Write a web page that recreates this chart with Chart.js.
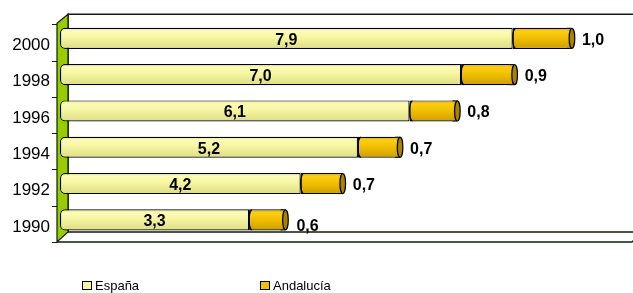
<!DOCTYPE html>
<html>
<head>
<meta charset="utf-8">
<script src="https://cdn.jsdelivr.net/npm/chart.js@4/dist/chart.umd.min.js"></script>
<style>
    html, body { margin: 0; padding: 0; background: #fff; }
    #wrap { position: relative; width: 633px; height: 293px; font-family: 'Liberation Sans', Arial, sans-serif; }
    #chart { position: absolute; left: 0; top: 0; }
    .legend-item { position: absolute; top: 278px; display: flex; align-items: center; font-size: 13px; color: #000; }
    .legend-item .box { width: 8px; height: 7px; border: 1.5px solid #000; margin-right: 3px; }
</style>
</head>
<body>
<div id="wrap">
    <canvas id="chart" width="633" height="293"></canvas>
    <div id="legend"></div>
</div>
<script>
// ===== Data =====
const years = ['2000', '1998', '1996', '1994', '1992', '1990'];
const espana = [7.9, 7.0, 6.1, 5.2, 4.2, 3.3];
const andalucia = [1.0, 0.9, 0.8, 0.7, 0.7, 0.6];
const seriesNames = ['España', 'Andalucía'];

const FONT = "'Liberation Sans', Arial, sans-serif";
const fmt = v => v.toFixed(1).replace('.', ',');

// vertical gradient for each bar, so it looks like a cylinder
function cylinder(stops, flat) {
    return ctx => {
        const chart = ctx.chart;
        const y = chart.scales && chart.scales.y;
        if (!y || ctx.dataIndex === undefined) return flat;
        const c = y.getPixelForValue(ctx.dataIndex);
        if (!isFinite(c)) return flat;
        const h = 11;
        const g = chart.ctx.createLinearGradient(0, c - h, 0, c + h);
        stops.forEach(s => g.addColorStop(s[0], s[1]));
        return g;
    };
}

// 3D frame: back wall, green side wall, floor, tick marks
const framePlugin = {
    id: 'frame',
    beforeDatasetsDraw(chart) {
        const { ctx, chartArea: a } = chart;
        const fx = a.left - 3, bx = a.left + 8;
        const backTop = a.top - 6, backBot = a.bottom - 6;
        const frontTop = a.top + 3, frontBot = a.bottom + 4;
        const right = chart.width;
        ctx.save();
        ctx.strokeStyle = '#0d1f0d';
        ctx.lineWidth = 1.5;

        // back wall outline
        ctx.beginPath();
        ctx.moveTo(right, backTop);
        ctx.lineTo(bx, backTop);
        ctx.lineTo(bx, backBot);
        ctx.lineTo(right, backBot);
        ctx.stroke();

        // floor front edge
        ctx.beginPath();
        ctx.moveTo(fx, frontBot);
        ctx.lineTo(right - 1, frontBot);
        ctx.lineTo(right + 2, frontBot - 3);
        ctx.stroke();

        // green side wall
        ctx.beginPath();
        ctx.moveTo(fx, frontTop);
        ctx.lineTo(bx, backTop);
        ctx.lineTo(bx, backBot);
        ctx.lineTo(fx, frontBot);
        ctx.closePath();
        ctx.fillStyle = '#99cc00';
        ctx.fill();
        ctx.lineWidth = 1.2;
        ctx.stroke();

        // tick marks on the front edge
        const band = (a.bottom - a.top) / years.length;
        ctx.lineWidth = 1;
        ctx.beginPath();
        for (let i = 0; i <= years.length; i++) {
            const ty = Math.round(a.top + 4 + i * band) + 0.5;
            ctx.moveTo(fx - 5, ty);
            ctx.lineTo(fx, ty);
        }
        ctx.stroke();
        ctx.restore();
    }
};

// end caps and value labels
const labelPlugin = {
    id: 'labels',
    afterDatasetsDraw(chart) {
        const { ctx } = chart;
        const esp = chart.getDatasetMeta(0).data;
        const and = chart.getDatasetMeta(1).data;
        ctx.save();

        // cylinder end: a short piece sticking out plus a dark cap
        and.forEach(el => {
            const ry = el.height / 2 - 0.5;
            const top = el.y - el.height / 2, h = el.height;
            const g = ctx.createLinearGradient(0, top, 0, top + h);
            g.addColorStop(0, '#dcac00');
            g.addColorStop(0.2, '#fcce14');
            g.addColorStop(1, '#cc9c00');
            ctx.fillStyle = g;
            ctx.fillRect(el.x - 3, top + 0.5, 5, h - 1);
            ctx.strokeStyle = '#000';
            ctx.lineWidth = 1;
            ctx.beginPath();
            ctx.moveTo(el.x - 3, top + 0.5);
            ctx.lineTo(el.x + 2, top + 0.5);
            ctx.moveTo(el.x - 3, top + h - 0.5);
            ctx.lineTo(el.x + 2, top + h - 0.5);
            ctx.stroke();
            ctx.beginPath();
            ctx.ellipse(el.x + 2, el.y, 2.8, ry, 0, 0, Math.PI * 2);
            ctx.fillStyle = '#a88300';
            ctx.fill();
            ctx.lineWidth = 1.2;
            ctx.stroke();
        });

        // curved joint between the two segments
        and.forEach(el => {
            const ry = el.height / 2 - 0.5;
            ctx.beginPath();
            ctx.ellipse(el.base + 3, el.y, 3, ry, 0, Math.PI / 2, Math.PI * 1.5);
            ctx.lineWidth = 1.2;
            ctx.strokeStyle = '#000';
            ctx.stroke();
        });

        ctx.fillStyle = '#000';
        ctx.font = 'bold 16px ' + FONT;
        ctx.textBaseline = 'middle';
        ctx.textAlign = 'center';
        esp.forEach((el, i) => {
            ctx.fillText(fmt(espana[i]), (el.x + el.base) / 2, el.y + 2);
        });
        ctx.textAlign = 'left';
        and.forEach((el, i) => {
            const last = i === years.length - 1;
            ctx.fillText(fmt(andalucia[i]), el.x + (last ? 13 : 12), el.y + (last ? 7 : 2));
        });
        ctx.restore();
    }
};

const colors = ['#f6f6a0', '#f2c000'];

new Chart(document.getElementById('chart'), {
    type: 'bar',
    data: {
        labels: years,
        datasets: [
            {
                label: seriesNames[0],
                data: espana,
                backgroundColor: cylinder([[0, '#e6e68e'], [0.18, '#fcfcb8'], [0.45, '#f6f6a2'], [1, '#dcdc82']], colors[0]),
                borderColor: '#000',
                borderWidth: 1.2,
                borderSkipped: false,
                borderRadius: { topLeft: 5, bottomLeft: 5, topRight: 0, bottomRight: 0 }
            },
            {
                label: seriesNames[1],
                data: andalucia,
                backgroundColor: cylinder([[0, '#dcac00'], [0.18, '#fcce14'], [0.5, '#f0be00'], [1, '#cc9c00']], colors[1]),
                borderColor: '#000',
                borderWidth: 1.2,
                borderSkipped: false,
                borderRadius: 0
            }
        ]
    },
    options: {
        indexAxis: 'y',
        responsive: false,
        animation: false,
        layout: { padding: { top: 18, bottom: 55, left: 0, right: 0 } },
        datasets: { bar: { categoryPercentage: 1, barPercentage: 0.58 } },
        plugins: {
            legend: { display: false },
            tooltip: { enabled: false }
        },
        scales: {
            x: { stacked: true, min: 0, max: 10, display: false },
            y: {
                stacked: true,
                grid: { display: false, drawTicks: false },
                border: { display: false },
                ticks: { color: '#000', font: { family: FONT, size: 17 }, padding: 10, labelOffset: 7 },
                afterFit: s => { s.width = 60; }
            }
        }
    },
    plugins: [framePlugin, labelPlugin]
});

// legend
const legend = document.getElementById('legend');
const legendX = [82, 260];
seriesNames.forEach((name, i) => {
    const item = document.createElement('div');
    item.className = 'legend-item';
    item.style.left = legendX[i] + 'px';
    item.innerHTML = `<div class="box" style="background:${colors[i]}"></div><span>${name}</span>`;
    legend.appendChild(item);
});
</script>
</body>
</html>
